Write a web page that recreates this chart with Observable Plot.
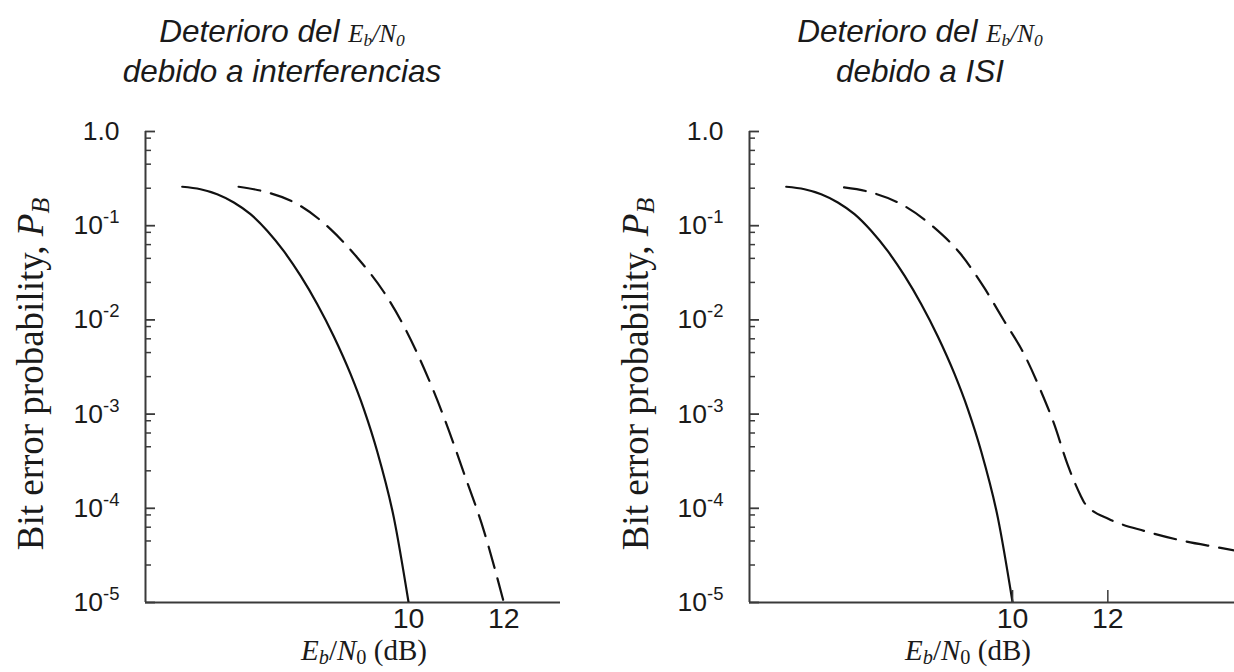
<!DOCTYPE html>
<html>
<head>
<meta charset="utf-8">
<script src="https://cdn.jsdelivr.net/npm/d3@7"></script>
<script src="https://cdn.jsdelivr.net/npm/@observablehq/plot@0.6"></script>
<style>
  body { margin: 0; background: #fff; }
  #wrap { position: relative; width: 1234px; height: 672px; overflow: hidden; background: #fff; }
  .panel { position: absolute; top: 0; }
  .title { position: absolute; top: 14px; font-family: "Liberation Sans", Arial, sans-serif; font-style: italic;
           font-size: 31.5px; line-height: 35px; text-align: center; white-space: nowrap;
           transform: translateX(-50%); color: #1a1a1a; }
  .math { font-family: "Liberation Serif", "Times New Roman", serif; font-size: 25px; }
  .sub { font-size: 0.7em; position: relative; top: 0.22em; }
  .ylab { position: absolute; font-family: "Liberation Serif", "Times New Roman", serif; font-size: 37px;
          white-space: nowrap; line-height: 1; transform: translate(-50%, -50%) rotate(-90deg); color: #1a1a1a; }
  .xlab { position: absolute; top: 636px; font-family: "Liberation Serif", "Times New Roman", serif; font-size: 29px;
          white-space: nowrap; line-height: 1; transform: translateX(-50%); color: #1a1a1a; }
</style>
</head>
<body>
<div id="wrap">
  <div class="title" style="left:282px">Deterioro del <span class="math"><i>E</i><span class="sub"><i>b</i></span>/<i>N</i><span class="sub">0</span></span><br>debido a interferencias</div>
  <div class="title" style="left:920px">Deterioro del <span class="math"><i>E</i><span class="sub"><i>b</i></span>/<i>N</i><span class="sub">0</span></span><br>debido a ISI</div>
  <div class="ylab" style="left:30px; top:374px">Bit error probability, <i>P</i><span class="sub"><i>B</i></span></div>
  <div class="ylab" style="left:635px; top:374px">Bit error probability, <i>P</i><span class="sub"><i>B</i></span></div>
  <div class="xlab" style="left:364px"><i>E</i><span class="sub"><i>b</i></span>/<i>N</i><span class="sub">0</span> (dB)</div>
  <div class="xlab" style="left:968px"><i>E</i><span class="sub"><i>b</i></span>/<i>N</i><span class="sub">0</span> (dB)</div>
</div>
<script>
// ---- data ----
const yTickValues = [1, 1e-1, 1e-2, 1e-3, 1e-4, 1e-5];
const yTickLabels = ["1.0", "10^-1", "10^-2", "10^-3", "10^-4", "10^-5"];
const minorFactors = [0.85, 0.63, 0.45, 0.25];   // minor tick positions within each decade
const xTickValues = [10, 12];
const xDomainLeft = [4.475, 13.19];
const xDomainRight = [4.475, 14.66];

// ideal (solid) curve, same in both panels
const ideal = [
  [5.246, 0.259], [5.63, 0.244], [5.98, 0.216], [6.33, 0.1766], [6.68, 0.1327],
  [7.03, 0.0884], [7.38, 0.0536], [7.73, 0.02945], [8.08, 0.01476], [8.43, 0.00667],
  [8.78, 0.00267], [9.06, 1.13e-3], [9.34, 4.03e-4], [9.69, 7.96e-5], [10.0, 1.0e-5]
];
// left panel: degraded by interference (dashed)
const interference = [
  [6.43, 0.259], [6.96, 0.231], [7.66, 0.170], [8.36, 0.092], [8.92, 0.046],
  [9.48, 0.01977], [9.90, 0.00862], [10.32, 0.00309], [10.74, 9.33e-4],
  [11.16, 2.38e-4], [11.58, 5.8e-5], [12.0, 1.0e-5]
];
// right panel: degraded by ISI (dashed)
const isi = [
  [6.46, 0.255], [6.95, 0.231], [7.72, 0.163], [8.35, 0.096], [8.91, 0.050],
  [9.40, 0.0221], [9.82, 0.0098], [10.24, 0.00435], [10.59, 0.00178], [10.87, 7.9e-4],
  [11.15, 2.96e-4], [11.43, 1.36e-4], [11.50, 1.16e-4], [11.60, 1.02e-4], [12.02, 7.7e-5],
  [12.79, 5.7e-5], [13.59, 4.5e-5], [14.37, 3.8e-5], [14.66, 3.56e-5]
];

const minorTickValues = yTickValues.slice(1).flatMap(d => minorFactors.map(f => f * d * 10));

function panel({solid, dashed, xDomain, width, marginLeft, marginRight, xTickMarks}) {
  const height = 672, marginTop = 131, marginBottom = 70;
  const plotW = width - marginLeft - marginRight;
  const plotH = height - marginTop - marginBottom;
  const axisColor = "#3a3a3a";
  const marks = [
    Plot.tickY(yTickValues, {y: d => d, insetRight: plotW - 10, stroke: axisColor, strokeWidth: 1.8}),
    Plot.tickY(minorTickValues, {y: d => d, insetRight: plotW - 6, stroke: axisColor, strokeWidth: 1.5}),
    Plot.axisY(yTickValues, {
      tickSize: 0, tickPadding: 26, fontSize: 26.5, fill: "#1a1a1a",
      tickFormat: d => yTickLabels[yTickValues.indexOf(d)]
    }),
    Plot.axisX(xTickValues, {tickSize: 0, tickPadding: 5, fontSize: 28.5, fill: "#1a1a1a", tickFormat: d => String(d)}),
    Plot.ruleX([xDomain[0]], {stroke: axisColor, strokeWidth: 2}),
    Plot.ruleY([1e-5], {stroke: axisColor, strokeWidth: 2}),
    Plot.line(solid, {x: d => d[0], y: d => d[1], curve: "monotone-x", stroke: "#111", strokeWidth: 2.2, clip: true}),
    Plot.line(dashed, {x: d => d[0], y: d => d[1], curve: "monotone-x", stroke: "#111", strokeWidth: 2.2,
      strokeDasharray: "22,11", clip: true})
  ];
  if (xTickMarks) marks.push(Plot.tickX(xTickValues, {x: d => d, insetTop: plotH - 12, stroke: axisColor, strokeWidth: 1.5}));
  const svg = Plot.plot({
    width, height, marginLeft, marginRight, marginTop, marginBottom,
    x: {type: "linear", domain: xDomain, axis: null},
    y: {type: "log", domain: [1e-5, 1], axis: null},
    style: {fontFamily: "'Liberation Sans', Arial, sans-serif", background: "transparent", overflow: "visible"},
    marks
  });
  // superscript exponents on the y tick labels
  d3.select(svg).selectAll('g[aria-label="y-axis tick label"] text').each(function () {
    const parts = this.textContent.split("^");
    if (parts.length === 2) {
      const s = d3.select(this);
      s.text(null);
      s.append("tspan").text(parts[0]);
      s.append("tspan").attr("dy", "-11").attr("font-size", "18.5").text(parts[1]);
    }
  });
  return svg;
}

const wrap = document.getElementById("wrap");
const left = panel({solid: ideal, dashed: interference, xDomain: xDomainLeft, width: 617, marginLeft: 145, marginRight: 57, xTickMarks: false});
left.classList.add("panel"); left.style.left = "0px";
const right = panel({solid: ideal, dashed: isi, xDomain: xDomainRight, width: 617, marginLeft: 132, marginRight: 0, xTickMarks: true});
right.classList.add("panel"); right.style.left = "617px";
wrap.prepend(right);
wrap.prepend(left);
</script>
</body>
</html>
